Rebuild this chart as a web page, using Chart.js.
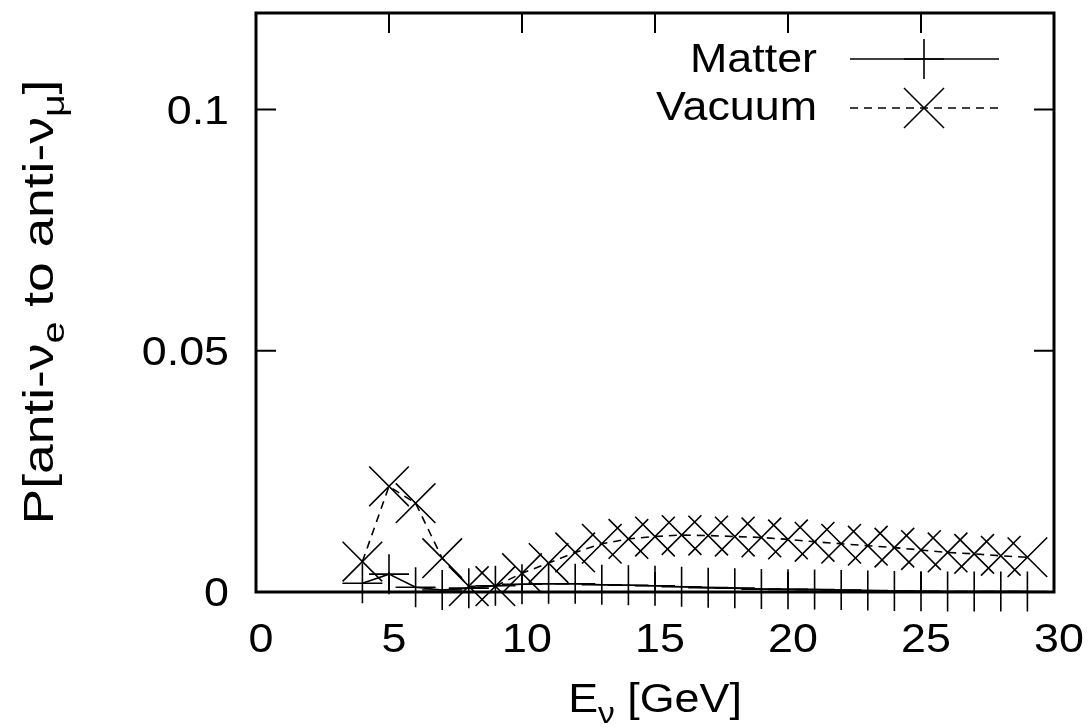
<!DOCTYPE html>
<html><head><meta charset="utf-8">
<script src="https://cdn.jsdelivr.net/npm/chart.js@4/dist/chart.umd.min.js"></script>
<style>html,body{margin:0;padding:0;background:#fff}#wrap{width:1090px;height:728px}</style>
</head><body><div id="wrap"><canvas id="c" width="1090" height="728"></canvas></div>
<script>
const energies = [4,5,6,7,8,9,10,11,12,13,14,15,16,17,18,19,20,21,22,23,24,25,26,27,28,29];
const matterP = [0.0018,0.0037,0.0010,0.0004,0.0008,0.0013,0.0016,0.0017,0.0017,0.0015,0.0014,0.0013,0.0011,0.0009,0.0008,0.0006,0.00055,0.0005,0.0004,0.0003,0.0002,0.00015,0.0001,0.0001,0.0001,0.0001];
const vacuumP = [0.0063,0.0219,0.0184,0.0070,0.0012,0.0012,0.0039,0.0060,0.0082,0.0100,0.0110,0.0115,0.0118,0.0117,0.0115,0.0113,0.0109,0.0104,0.0100,0.0096,0.0092,0.0087,0.0082,0.0079,0.0075,0.0072];
const seriesLabels = ['Matter','Vacuum'];
const xTickValues = [0,5,10,15,20,25,30];
const yTickValues = [0,0.05,0.1];
const yTickLabels = ['0','0.05','0.1'];
const xTitleParts = [['E',false],['ν',true],[' [GeV]',false]];
const yTitleParts = [['P[anti-ν',false],['e',true],[' to anti-ν',false],['μ',true],[']',false]];

const FONT = '"Liberation Sans", Arial, Helvetica, sans-serif';
const MAINPX = 40, SUBPX = 30, SUBOFF = 11, SX = 1.12;

function drawText(ctx, text, x, y, align, px, sx) {
  ctx.save();
  ctx.font = px + 'px ' + FONT;
  ctx.translate(x, y); ctx.scale(sx, 1);
  ctx.textAlign = align; ctx.textBaseline = 'alphabetic';
  ctx.fillText(text, 0, 0);
  ctx.restore();
}

function drawRich(ctx, parts, cx, baseY, mainPx, subPx, subOff, sx) {
  let total = 0;
  const widths = parts.map(([t, sub]) => {
    ctx.font = (sub ? subPx : mainPx) + 'px ' + FONT;
    const w = ctx.measureText(t).width * sx; total += w; return w;
  });
  let x = cx - total / 2;
  parts.forEach(([t, sub], i) => {
    drawText(ctx, t, x, baseY + (sub ? subOff : 0), 'left', sub ? subPx : mainPx, sx);
    x += widths[i];
  });
}

const framePlugin = {
  id: 'frame',
  afterDatasetsDraw(chart) {
    const ctx = chart.ctx, a = chart.chartArea;
    const xs = chart.scales.x, ys = chart.scales.y;
    ctx.save();
    ctx.strokeStyle = '#000';
    ctx.fillStyle = '#000';
    ctx.lineWidth = 2;
    const TL = 20;
    ctx.beginPath();
    xTickValues.forEach(v => {
      const px = xs.getPixelForValue(v);
      ctx.moveTo(px, a.bottom); ctx.lineTo(px, a.bottom - TL);
      ctx.moveTo(px, a.top); ctx.lineTo(px, a.top + TL);
    });
    yTickValues.forEach(v => {
      const py = ys.getPixelForValue(v);
      ctx.moveTo(a.left, py); ctx.lineTo(a.left + TL, py);
      ctx.moveTo(a.right, py); ctx.lineTo(a.right - TL, py);
    });
    ctx.stroke();
    ctx.lineWidth = 3;
    ctx.strokeRect(a.left, a.top, a.right - a.left, a.bottom - a.top);

    // tick labels (from the library's ticks)
    xs.ticks.forEach(t => {
      drawText(ctx, String(t.label), xs.getPixelForValue(t.value) + 5, a.bottom + 60, 'center', MAINPX, SX);
    });
    ys.ticks.forEach(t => {
      drawText(ctx, String(t.label), a.left - 27, ys.getPixelForValue(t.value) + 14, 'right', MAINPX, SX);
    });

    // axis titles
    drawRich(ctx, xTitleParts, (a.left + a.right) / 2, 712, MAINPX, SUBPX, SUBOFF, SX);
    ctx.save();
    ctx.translate(53, 302);
    ctx.rotate(-Math.PI / 2);
    drawRich(ctx, yTitleParts, 0, 0, 42, 31, 11, 1.27);
    ctx.restore();

    // legend
    const rows = [{y: 59, base: 72}, {y: 108, base: 120}];
    chart.data.datasets.forEach((ds, i) => {
      const r = rows[i];
      drawText(ctx, ds.label, 817, r.base, 'right', MAINPX, SX);
      ctx.lineWidth = ds.borderWidth;
      ctx.setLineDash(ds.borderDash || []);
      ctx.beginPath(); ctx.moveTo(850, r.y); ctx.lineTo(999, r.y); ctx.stroke();
      ctx.setLineDash([]);
      ctx.lineWidth = ds.pointBorderWidth;
      const cx = 924, R = 20;
      ctx.beginPath();
      if (ds.pointStyle === 'cross') {
        ctx.moveTo(cx - R, r.y); ctx.lineTo(cx + R, r.y);
        ctx.moveTo(cx, r.y - R); ctx.lineTo(cx, r.y + R);
      } else {
        ctx.moveTo(cx - R, r.y - R); ctx.lineTo(cx + R, r.y + R);
        ctx.moveTo(cx - R, r.y + R); ctx.lineTo(cx + R, r.y - R);
      }
      ctx.stroke();
    });
    ctx.restore();
  }
};

function zeroPad(s) { s.paddingTop = 0; s.paddingBottom = 0; s.paddingLeft = 0; s.paddingRight = 0; }

new Chart(document.getElementById('c'), {
  type: 'line',
  data: {
    datasets: [
      { label: seriesLabels[0], data: energies.map((e, i) => ({x: e, y: matterP[i]})),
        borderColor: '#000', borderWidth: 1.6, pointStyle: 'cross', pointRadius: 20,
        pointBorderWidth: 1.6, pointBorderColor: '#000', pointBackgroundColor: '#000',
        fill: false, tension: 0, clip: false },
      { label: seriesLabels[1], data: energies.map((e, i) => ({x: e, y: vacuumP[i]})),
        borderColor: '#000', borderWidth: 1.6, borderDash: [8, 6], pointStyle: 'crossRot', pointRadius: 28,
        pointBorderWidth: 1.6, pointBorderColor: '#000', pointBackgroundColor: '#000',
        fill: false, tension: 0, clip: false }
    ]
  },
  options: {
    responsive: false, animation: false, devicePixelRatio: 1,
    layout: { autoPadding: false, padding: { top: 13, right: 36, left: 0, bottom: 0 } },
    plugins: { legend: { display: false }, tooltip: { enabled: false } },
    events: [],
    scales: {
      x: {
        type: 'linear', min: 0, max: 30,
        afterBuildTicks: s => { s.ticks = xTickValues.map(v => ({value: v})); },
        afterFit: s => { s.height = 136; zeroPad(s); },
        grid: { display: false, drawTicks: false }, border: { display: false },
        ticks: { display: false, autoSkip: false, maxRotation: 0, callback: v => String(v) }
      },
      y: {
        type: 'linear', min: 0, max: 0.12,
        afterBuildTicks: s => { s.ticks = yTickValues.map(v => ({value: v})); },
        afterFit: s => { s.width = 256; zeroPad(s); },
        grid: { display: false, drawTicks: false }, border: { display: false },
        ticks: { display: false, autoSkip: false,
          callback: v => { const i = yTickValues.findIndex(t => Math.abs(t - v) < 1e-9); return i >= 0 ? yTickLabels[i] : ''; } }
      }
    }
  },
  plugins: [framePlugin]
});
</script></body></html>
